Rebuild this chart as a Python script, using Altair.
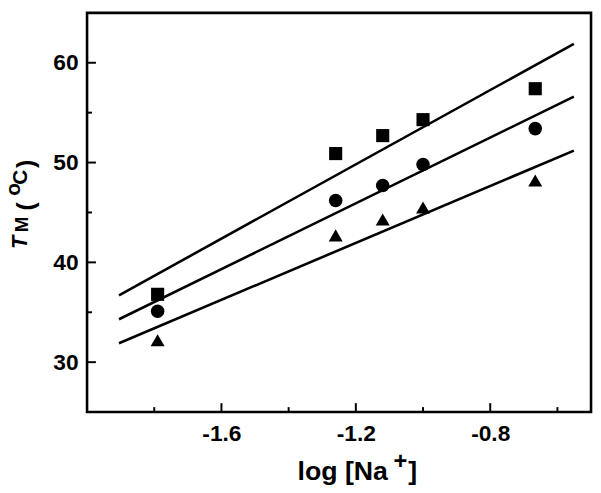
import altair as alt
import pandas as pd

# ---- data ----
log_na = [-1.79, -1.26, -1.12, -1.00, -0.666]
tm_square = [36.8, 50.9, 52.7, 54.3, 57.4]
tm_circle = [35.1, 46.2, 47.7, 49.8, 53.4]
tm_triangle = [32.2, 42.7, 44.3, 45.5, 48.2]

fit_x = [-1.905, -0.551]
fit_square = [36.7, 61.9]
fit_circle = [34.3, 56.6]
fit_triangle = [31.9, 51.2]

y_major = [30, 40, 50, 60]
y_minor = [35, 45, 55]
x_major = [-1.6, -1.2, -0.8]
x_minor = [-1.8, -1.4, -1.0, -0.6]

W, H = 510, 404
FONT = "Liberation Sans"

series = ["square", "circle", "triangle"]
pts = pd.DataFrame({
    "x": log_na * 3,
    "y": tm_square + tm_circle + tm_triangle,
    "s": [s for s in series for _ in log_na],
})
fits = pd.DataFrame({
    "x": fit_x * 3,
    "y": fit_square + fit_circle + fit_triangle,
    "s": [s for s in series for _ in fit_x],
})

xscale = alt.Scale(domain=[-2.0, -0.5], nice=False, zero=False)
yscale = alt.Scale(domain=[25, 65], nice=False, zero=False)

xaxis = alt.Axis(values=x_major, title=None, ticks=False, domain=False, grid=False,
                 labelFont=FONT, labelFontSize=23, labelFontWeight="bold", labelColor="black",
                 labelPadding=11,
                 labelExpr="datum.value < 0 ? '-' + format(-datum.value, '.1f') : format(datum.value, '.1f')")
yaxis = alt.Axis(values=y_major, title=None, ticks=False, domain=False, grid=False,
                 labelFont=FONT, labelFontSize=23, labelFontWeight="bold", labelColor="black",
                 labelPadding=9, format="d")

lines = alt.Chart(fits).mark_line(color="black", strokeWidth=2.6).encode(
    x=alt.X("x:Q", scale=xscale, axis=xaxis),
    y=alt.Y("y:Q", scale=yscale, axis=yaxis),
    detail="s:N",
)

points = alt.Chart(pts).mark_point(filled=True, opacity=1, color="black", strokeWidth=0).encode(
    x=alt.X("x:Q", scale=xscale),
    y=alt.Y("y:Q", scale=yscale),
    shape=alt.Shape("s:N", scale=alt.Scale(domain=series, range=["square", "circle", "triangle-up"]), legend=None),
    size=alt.Size("s:N", scale=alt.Scale(domain=series, range=[176, 200, 262]), legend=None),
)

def rules_y(vals, length):
    df = pd.DataFrame({"v": vals})
    return alt.Chart(df).mark_rule(color="black", strokeWidth=2).encode(
        y=alt.Y("v:Q", scale=yscale), x=alt.value(0), x2=alt.value(length))

def rules_x(vals, length):
    df = pd.DataFrame({"v": vals})
    return alt.Chart(df).mark_rule(color="black", strokeWidth=2).encode(
        x=alt.X("v:Q", scale=xscale), y=alt.value(H), y2=alt.value(H - length))

def label(txt, x, y, size, angle=0, style="normal"):
    df = pd.DataFrame({"t": [txt]})
    kw = dict(align="left", baseline="alphabetic", font=FONT, fontSize=size,
              fontWeight="bold", fontStyle=style, color="black")
    if angle:
        kw["angle"] = angle
    return alt.Chart(df).mark_text(**kw).encode(text="t:N", x=alt.value(x), y=alt.value(y))

titles = [
    # x title: log [Na+]
    label("log [Na", 213, 473, 27),
    label("+", 310, 462, 24),
    label("]", 325, 473, 27),
    # y title: T_M (oC)
    label("T", -61, 239, 22, 270, "italic"),
    label("M", -60, 222, 19, 270),
    label("(", -54, 200, 25, 270),
    label("o", -68, 185, 21, 270),
    label("C", -61, 174, 21, 270),
    label(")", -54, 157, 25, 270),
]

chart = alt.layer(
    lines, points,
    rules_y(y_major, 9), rules_y(y_minor, 5),
    rules_x(x_major, 9), rules_x(x_minor, 5),
    *titles,
).properties(
    width=W, height=H,
    autosize="none",
    padding={"left": 80, "top": 2, "right": 2, "bottom": 80},
).configure_view(stroke="black", strokeWidth=2.6)

chart.save("out.html", embed_options={"renderer": "svg", "actions": False})
